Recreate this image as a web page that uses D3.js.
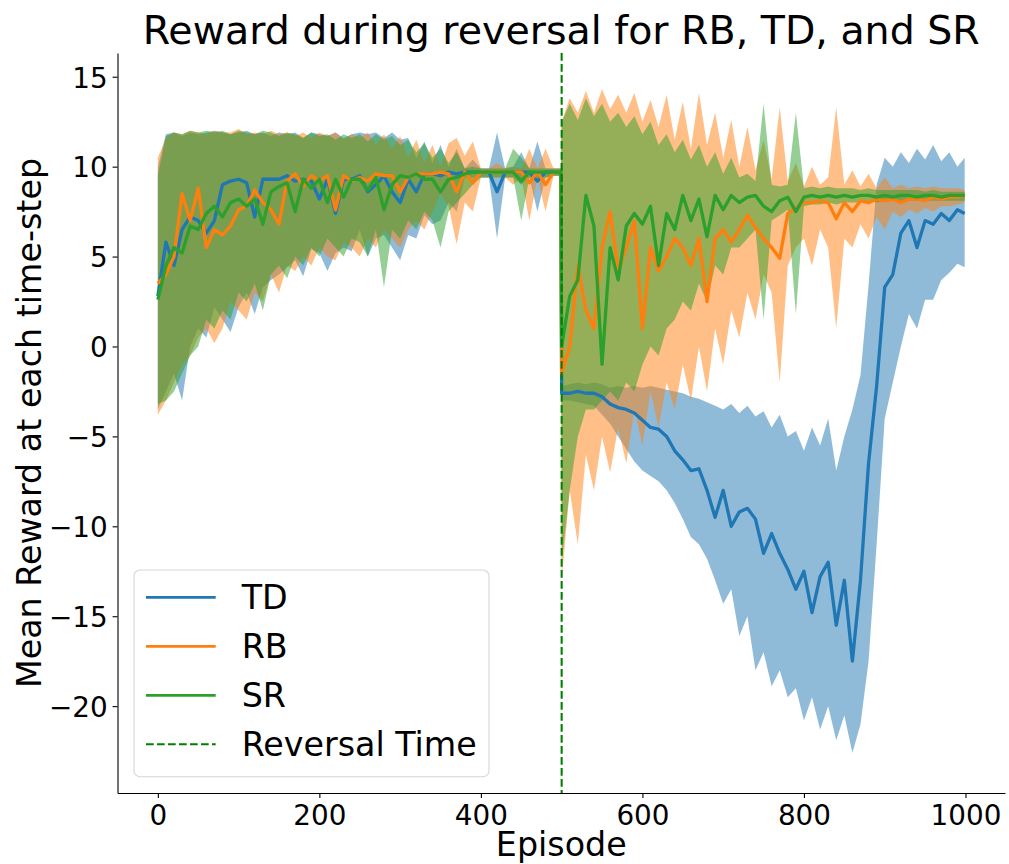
<!DOCTYPE html>
<html lang="en">
<head>
    <meta charset="UTF-8">
    <title>Reward during reversal for RB, TD, and SR</title>
    <style>
        body { margin: 0; background: #fff; }
        svg { display: block; font-family: "DejaVu Sans", sans-serif; }
    </style>
</head>
<body>
    <div id="chart"></div>

    <script src="https://cdn.jsdelivr.net/npm/d3@7"></script>
    <script>
        const w = 1009;
        const h = 864;
        const plot = { left: 117.5, right: 1005, top: 53, bottom: 793 };

        // episodes sampled every 10, plus the two points around the reversal and the end
        const EPISODES = [
            0,10,20,30,40,50,60,70,80,90,
            100,110,120,130,140,150,160,170,180,190,
            200,210,220,230,240,250,260,270,280,290,
            300,310,320,330,340,350,360,370,380,390,
            400,410,420,430,440,450,460,470,480,490,
            499,
            500,510,520,530,540,550,560,570,580,590,
            600,610,620,630,640,650,660,670,680,690,
            700,710,720,730,740,750,760,770,780,790,
            800,810,820,830,840,850,860,870,880,890,
            900,910,920,930,940,950,960,970,980,990,
            999
        ];

        const TD_MEAN = [
            2.8,5.8,4.5,6.5,7.2,7.0,6.3,7.0,9.0,9.2,
            9.3,9.1,7.2,9.3,9.3,9.3,9.5,9.2,9.3,9.2,
            8.2,9.3,7.4,9.3,9.3,9.5,8.6,9.0,9.5,8.6,
            8.0,9.3,8.6,9.6,9.6,9.5,9.7,9.6,9.7,9.7,
            9.7,9.7,8.6,9.7,9.7,9.7,9.7,9.2,9.7,9.7,
            9.7,
            -2.6,-2.6,-2.5,-2.6,-2.6,-2.8,-3.2,-3.4,-3.5,-3.7,
            -4.1,-4.5,-4.6,-5.0,-5.8,-6.3,-6.9,-6.8,-8.0,-9.5,
            -8.0,-10.0,-9.2,-9.0,-9.6,-11.5,-10.4,-11.5,-12.4,-13.5,
            -12.5,-14.8,-12.8,-12.0,-15.5,-13.0,-17.5,-13.0,-6.5,-2.2,
            3.3,4.0,6.3,7.0,5.5,7.0,6.8,7.4,7.0,7.6,
            7.4
        ];
        const TD_LO = [
            -3.5,-2.5,-1.5,-3.0,0.0,1.0,0.5,2.2,1.5,0.8,
            2.2,3.0,1.8,3.3,3.7,4.0,4.4,4.8,3.9,5.4,
            5.2,4.2,5.2,5.5,5.3,6.5,5.0,6.0,6.2,5.5,
            4.8,6.2,6.0,7.3,6.8,7.0,8.0,7.5,9.4,9.4,
            9.4,9.4,6.0,9.4,9.4,9.0,9.4,7.5,9.4,9.5,
            9.5,
            -3.0,-3.0,-3.1,-3.2,-3.3,-3.8,-4.3,-5.0,-5.7,-6.4,
            -6.9,-7.2,-7.5,-8.0,-8.7,-9.6,-10.6,-11.0,-11.8,-13.0,
            -14.3,-13.5,-16.1,-15.0,-18.0,-17.0,-18.9,-18.0,-19.5,-19.0,
            -20.8,-19.5,-21.3,-20.0,-21.9,-20.5,-22.6,-21.0,-17.5,-11.0,
            -4.0,-2.0,0.0,1.8,1.0,2.6,2.6,3.7,4.1,4.6,
            4.4
        ];
        const TD_HI = [
            10.0,11.8,11.9,11.7,11.9,11.8,11.9,12.0,11.9,11.8,
            11.9,12.0,11.8,11.9,11.7,11.9,11.8,11.9,11.6,11.9,
            11.8,11.7,11.9,11.6,11.8,11.9,11.8,11.9,11.6,11.9,
            11.5,11.6,10.5,11.4,10.2,11.2,10.0,11.0,9.9,10.4,
            9.9,9.9,11.9,9.9,10.0,10.8,9.9,11.4,9.9,9.9,
            9.9,
            -2.2,-2.1,-2.0,-2.1,-2.0,-2.1,-2.3,-2.2,-2.3,-2.2,
            -2.3,-2.2,-2.3,-2.4,-2.5,-2.6,-2.8,-2.9,-3.1,-3.3,
            -3.5,-3.2,-3.7,-3.3,-3.9,-3.6,-4.5,-3.8,-5.0,-4.7,
            -5.8,-4.5,-5.5,-4.0,-6.9,-5.0,-3.5,-1.6,3.4,9.0,
            10.5,10.0,10.8,10.2,11.0,10.4,11.2,10.3,10.8,10.0,
            10.5
        ];

        const RB_MEAN = [
            3.5,4.0,5.0,8.5,7.0,8.8,5.5,6.5,6.2,6.7,
            7.6,7.8,8.7,8.0,7.6,6.8,9.2,9.6,8.9,9.5,
            9.2,9.5,7.6,9.5,9.2,9.4,9.2,9.6,9.5,9.5,
            8.6,9.4,9.6,9.6,9.6,9.7,9.6,8.6,9.7,9.1,
            9.7,9.7,9.7,9.7,9.7,9.7,9.1,9.7,9.0,9.7,
            9.7,
            -1.5,0.0,4.5,2.0,1.0,5.5,7.5,4.2,5.5,7.0,
            1.0,5.5,4.2,5.0,6.0,5.5,4.5,6.0,2.5,6.0,
            6.5,5.8,6.5,7.3,6.6,6.0,5.5,4.9,7.4,7.7,
            8.0,8.0,8.1,8.0,7.1,8.0,7.5,8.1,8.0,8.2,
            8.1,8.2,8.0,8.2,8.2,8.1,8.3,8.2,8.3,8.3,
            8.4
        ];
        const RB_LO = [
            -3.8,-3.0,-2.0,-1.0,-0.5,0.5,1.0,0.2,1.0,2.5,
            2.0,1.5,3.0,2.5,4.0,3.0,4.5,4.2,5.0,4.5,
            5.5,5.0,4.8,5.8,5.5,5.0,6.0,5.5,6.5,6.0,
            5.5,6.5,7.0,6.5,7.5,8.5,7.8,5.7,8.0,7.5,
            9.4,9.4,9.4,9.4,9.0,9.4,7.0,9.4,7.5,9.5,
            9.5,
            -13.0,-8.0,-11.0,-6.0,-8.0,-5.0,-7.0,-4.5,-6.5,-3.5,
            -5.5,-2.5,-4.5,-2.0,-3.5,-1.0,-3.0,0.0,-2.5,1.0,
            -1.0,2.0,0.5,3.0,1.5,4.0,3.0,-2.0,4.5,5.5,
            6.0,4.5,6.5,5.5,1.0,6.0,5.5,6.8,6.0,7.2,
            6.5,7.5,7.2,7.6,7.4,7.7,7.5,7.8,7.8,7.9,
            8.0
        ];
        const RB_HI = [
            10.5,11.6,11.9,11.8,12.0,11.9,11.8,12.0,11.9,11.9,
            12.1,11.8,11.9,11.8,12.0,11.8,11.9,11.7,11.9,11.6,
            11.9,11.7,11.9,11.5,11.8,11.6,11.9,11.2,11.8,11.0,
            11.7,10.5,11.5,10.2,11.2,10.0,11.3,11.6,10.6,11.4,
            9.9,9.9,10.2,9.9,10.0,9.9,11.0,9.9,11.0,9.9,
            9.9,
            12.5,13.8,13.0,14.2,13.0,14.3,13.2,14.0,13.0,14.1,
            12.5,13.7,12.2,14.0,11.5,13.6,11.0,14.1,11.2,13.0,
            10.5,12.6,10.0,12.2,9.8,11.5,9.3,13.3,9.2,10.2,
            8.9,10.0,9.0,9.4,13.3,9.0,9.8,8.9,9.6,8.8,
            9.4,8.8,9.0,8.8,8.9,8.8,8.9,8.8,8.8,8.8,
            8.7
        ];

        const SR_MEAN = [
            2.6,4.5,5.5,5.2,6.7,6.5,7.4,7.8,7.2,8.0,
            8.2,7.8,8.2,6.8,8.6,8.9,9.1,7.5,9.3,8.8,
            9.3,8.0,9.3,8.3,9.3,9.3,8.7,9.4,7.6,9.0,
            9.5,9.4,9.6,9.3,9.3,8.6,9.3,9.4,9.6,9.7,
            9.7,9.7,9.7,9.7,9.7,9.2,9.7,9.7,9.7,9.7,
            9.7,
            0.0,2.8,3.7,8.4,6.7,-1.0,5.5,3.7,6.7,7.4,
            6.8,7.8,4.5,7.4,6.5,8.4,7.0,8.2,6.1,8.4,
            7.6,8.4,8.0,8.3,8.4,7.8,7.5,8.1,8.3,7.5,
            8.3,8.4,8.3,8.4,8.3,8.4,8.3,8.4,8.4,8.3,
            8.4,8.3,8.4,8.4,8.3,8.4,8.4,8.3,8.4,8.4,
            8.4
        ];
        const SR_LO = [
            -3.2,-3.0,-2.5,-1.5,-0.5,0.0,1.5,1.0,2.0,1.5,
            3.0,2.5,3.5,2.0,4.0,4.5,3.8,5.0,4.5,5.5,
            5.0,6.0,5.5,5.0,6.0,5.8,5.0,6.5,3.3,6.5,
            6.0,7.0,6.5,7.5,7.0,5.5,7.5,8.0,8.5,9.0,
            9.4,9.4,9.4,9.4,9.4,7.0,9.4,9.4,9.4,9.5,
            9.5,
            -12.0,-8.0,-5.0,-3.5,-3.5,-3.0,-2.5,-3.0,-2.0,-2.5,
            -1.0,0.0,-0.5,1.0,1.5,2.5,2.0,3.5,2.5,4.5,
            4.0,5.5,5.5,6.0,6.5,1.5,7.0,7.3,7.6,1.8,
            7.8,7.9,7.9,8.0,7.9,8.0,8.0,8.0,8.1,8.0,
            8.1,8.1,8.0,8.1,8.1,8.1,8.1,8.1,8.1,8.1,
            8.1
        ];
        const SR_HI = [
            9.5,11.7,11.9,11.8,12.0,11.9,12.0,11.9,12.0,11.8,
            12.0,11.9,11.8,12.0,11.9,11.7,11.9,11.8,11.6,11.9,
            11.7,11.8,11.5,11.8,11.6,11.8,11.4,11.8,11.5,11.7,
            11.2,11.5,10.8,11.3,10.5,11.0,10.2,10.8,9.9,10.0,
            9.9,9.9,9.9,9.9,11.0,10.5,9.9,9.9,9.9,9.9,
            9.9,
            12.5,13.5,12.6,13.8,12.8,13.5,12.5,13.0,12.2,12.8,
            11.8,12.5,11.2,11.8,10.8,11.5,10.4,11.2,10.0,10.8,
            9.6,10.5,9.4,9.6,9.2,13.5,9.0,8.9,9.0,13.0,
            8.8,8.9,8.8,8.9,8.8,8.8,8.8,8.7,8.8,8.7,
            8.7,8.7,8.7,8.7,8.7,8.6,8.7,8.6,8.6,8.6,
            8.6
        ];

        const REVERSAL = 500;
        const X_TICKS = [0, 200, 400, 600, 800, 1000];
        const Y_TICKS = [-20, -15, -10, -5, 0, 5, 10, 15];
        const Y_TICK_LABELS = ['\u221220', '\u221215', '\u221210', '\u22125', '0', '5', '10', '15'];

        const agents = [
            { name: 'TD', color: '#1f77b4', mean: TD_MEAN, lo: TD_LO, hi: TD_HI },
            { name: 'RB', color: '#ff7f0e', mean: RB_MEAN, lo: RB_LO, hi: RB_HI },
            { name: 'SR', color: '#2ca02c', mean: SR_MEAN, lo: SR_LO, hi: SR_HI }
        ];

        const xScale = d3.scaleLinear()
            .domain([-49.95, 1048.95])
            .range([plot.left, plot.right]);

        const yScale = d3.scaleLinear()
            .domain([-24.83, 16.32])
            .range([plot.bottom, plot.top]);

        const svg = d3.select('#chart')
            .append('svg')
            .attr('width', w)
            .attr('height', h);

        // bands first, matplotlib draws collections under lines
        agents.forEach(a => {
            const area = d3.area()
                .x((d, i) => xScale(EPISODES[i]))
                .y0((d, i) => yScale(a.lo[i]))
                .y1((d, i) => yScale(a.hi[i]));
            svg.append('path')
                .datum(EPISODES)
                .attr('d', area)
                .attr('fill', a.color)
                .attr('fill-opacity', 0.5);
        });

        agents.forEach(a => {
            const line = d3.line()
                .x((d, i) => xScale(EPISODES[i]))
                .y((d, i) => yScale(a.mean[i]));
            svg.append('path')
                .datum(EPISODES)
                .attr('d', line)
                .attr('fill', 'none')
                .attr('stroke', a.color)
                .attr('stroke-width', 3.3)
                .attr('stroke-linejoin', 'round');
        });

        svg.append('line')
            .attr('x1', xScale(REVERSAL))
            .attr('x2', xScale(REVERSAL))
            .attr('y1', plot.top)
            .attr('y2', plot.bottom)
            .attr('stroke', '#008000')
            .attr('stroke-width', 2.08)
            .attr('stroke-dasharray', '7.7,3.3');

        // axes
        const xAxis = d3.axisBottom(xScale)
            .tickValues(X_TICKS)
            .tickFormat(d => String(d))
            .tickSize(4.9)
            .tickSizeOuter(0)
            .tickPadding(4.9);
        const yAxis = d3.axisLeft(yScale)
            .tickValues(Y_TICKS)
            .tickFormat((d, i) => Y_TICK_LABELS[i])
            .tickSize(4.9)
            .tickSizeOuter(0)
            .tickPadding(4.9);

        const gx = svg.append('g')
            .attr('transform', `translate(0, ${plot.bottom})`)
            .call(xAxis);
        const gy = svg.append('g')
            .attr('transform', `translate(${plot.left}, 0)`)
            .call(yAxis);

        [gx, gy].forEach(g => {
            g.select('.domain').attr('stroke', '#000').attr('stroke-width', 1.1);
            g.selectAll('.tick line').attr('stroke', '#000').attr('stroke-width', 1.1);
            g.selectAll('.tick text')
                .attr('fill', '#000')
                .style('font-family', '"DejaVu Sans", sans-serif')
                .style('font-size', '27.8px');
        });
        gx.selectAll('.tick text').attr('dy', '0.8em');
        gy.selectAll('.tick text').attr('dy', '0.37em');

        // title and axis labels
        svg.append('text')
            .attr('x', (plot.left + plot.right) / 2)
            .attr('y', 44)
            .attr('text-anchor', 'middle')
            .style('font-size', '39.5px')
            .text('Reward during reversal for RB, TD, and SR');

        svg.append('text')
            .attr('x', (plot.left + plot.right) / 2)
            .attr('y', 856)
            .attr('text-anchor', 'middle')
            .style('font-size', '33.3px')
            .text('Episode');

        svg.append('text')
            .attr('transform', `translate(40.5, ${(plot.top + plot.bottom) / 2}) rotate(-90)`)
            .attr('text-anchor', 'middle')
            .style('font-size', '33.3px')
            .text('Mean Reward at each time-step');

        // legend
        const legendItems = [
            { label: 'TD', color: '#1f77b4', dash: null, width: 2.8 },
            { label: 'RB', color: '#ff7f0e', dash: null, width: 2.8 },
            { label: 'SR', color: '#2ca02c', dash: null, width: 2.8 },
            { label: 'Reversal Time', color: '#008000', dash: '7.7,3.3', width: 2.08 }
        ];

        const legend = svg.append('g').attr('id', 'legend');
        legend.append('rect')
            .attr('x', 134)
            .attr('y', 570)
            .attr('width', 355)
            .attr('height', 206.7)
            .attr('rx', 6)
            .attr('fill', '#fff')
            .attr('fill-opacity', 0.8)
            .attr('stroke', '#d6d6d6')
            .attr('stroke-width', 1.1);

        const entry = legend.selectAll('.legend-label')
            .data(legendItems)
            .enter()
            .append('g')
            .attr('class', 'legend-label')
            .attr('transform', (d, i) => `translate(0, ${597.3 + i * 49})`);
        entry.append('line')
            .attr('x1', 146)
            .attr('x2', 215.7)
            .attr('stroke', d => d.color)
            .attr('stroke-width', d => d.width)
            .attr('stroke-dasharray', d => d.dash);
        entry.append('text')
            .attr('x', 241.7)
            .attr('y', 12)
            .style('font-size', '33.3px')
            .text(d => d.label);
    </script>
</body>
</html>
